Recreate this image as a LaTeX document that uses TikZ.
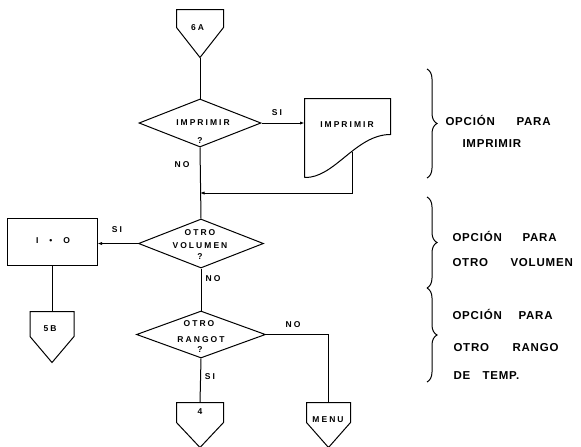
\documentclass[tikz,border=0pt]{standalone}
\usepackage{fontspec}
\setmainfont{Liberation Sans}
\newfontfamily\sidefont{Liberation Sans}[LetterSpace=7]
\newfontfamily\shapefont{Liberation Sans}[LetterSpace=24]
\usetikzlibrary{shapes.geometric,arrows.meta,decorations.pathreplacing}

\begin{document}
\begin{tikzpicture}[x=1pt,y=-1pt,line width=1pt,
  decision/.style={diamond, draw, inner sep=0pt},
  offpage/.style={rectangle, inner sep=0pt, minimum width=46pt},
  procbox/.style={rectangle, draw, inner sep=0pt, minimum width=90pt, minimum height=47pt},
  doctext/.style={inner sep=0pt, font=\shapefont\bfseries\fontsize{8.5}{9}\selectfont},
  shapetext/.style={inner sep=0pt, anchor=base, font=\shapefont\bfseries\fontsize{8.5}{9}\selectfont},
  flowlabel/.style={inner sep=0pt, font=\shapefont\bfseries\fontsize{8.5}{9}\selectfont},
  sidetext/.style={inner sep=0pt, anchor=base west, font=\sidefont\bfseries\fontsize{11.5}{13}\selectfont},
  arr/.style={-{Latex[length=4.5pt,width=3.2pt]}},
  sidebrace/.style={decorate, decoration={brace, amplitude=10pt}}]

\useasboundingbox (0,0) rectangle (581,447);

% decisions
\node[decision, minimum width=122pt, minimum height=48pt] (d1) at (200,123) {};
\node[decision, minimum width=125pt, minimum height=49pt] (d2) at (201,243.5) {};
\node[decision, minimum width=129pt, minimum height=47pt] (d3) at (201,334.5) {};

\node[shapetext] (d1a) at (203,125) {IMPRIMIR};
\node[shapetext] (d1b) at (200,143) {?};
\node[shapetext] (d2a) at (200,235) {OTRO};
\node[shapetext] (d2b) at (200,248) {VOLUMEN};
\node[shapetext] (d2c) at (200,259) {?};
\node[shapetext] (d3a) at (199,326) {OTRO};
\node[shapetext] (d3b) at (201,342) {RANGOT};
\node[shapetext] (d3c) at (200,352) {?};

% off-page connectors (outline drawn below)
\node[offpage, minimum height=47pt] (c6a) at (200,33.5) {};
\node[offpage, minimum width=43pt, minimum height=50pt] (c5b) at (52,337) {};
\node[offpage, minimum height=44pt] (c4) at (200,425) {};
\node[offpage, minimum width=43pt, minimum height=44pt] (cmenu) at (328.5,425) {};
\foreach \n/\s in {c6a/18pt, c5b/25pt, c4/20pt, cmenu/20pt}
  \draw (\n.north west) -- (\n.north east) -- ([yshift=-\s]\n.north east)
        -- (\n.south) -- ([yshift=-\s]\n.north west) -- cycle;

\node[doctext] (c6at) at (197.5,28) {6A};
\node[doctext] (c5bt) at (50,329) {5B};
\node[doctext] (c4t) at (200,412) {4};
\node[doctext] (cmenut) at (328,420) {MENU};

% print document
\node[inner sep=0pt, minimum width=85pt, minimum height=78pt] (ndoc) at (347.5,138) {};
\draw (ndoc.south west) -- (ndoc.north west) -- (ndoc.north east)
      -- ([yshift=-36pt]ndoc.north east)
      .. controls ([xshift=-35pt,yshift=-36pt]ndoc.north east)
      and ([xshift=30pt,yshift=-1pt]ndoc.south west) .. (ndoc.south west);
\node[doctext] (ndoct) at (347,125) {IMPRIMIR};
\coordinate (docout) at (352,152);
\coordinate (junc) at (200,193);

% counter reset box
\node[procbox] (reset) at (52,241.5) {};
\node[doctext] (resett) at (53,241) {I\hspace{11pt}\textbullet\hspace{11pt}O};

% flow
\draw (c6a.south) -- (d1.north);
\draw[arr] (d1.east) -- (d1.east -| ndoc.west);
\draw (d1.south) -- (d2.north);
\draw[arr] (docout) |- (junc);
\draw[arr] (d2.west) -- (d2.west -| reset.east);
\draw (reset.south) -- (c5b.north);
\draw (d2.south) -- (d3.north);
\draw (d3.south) -- (c4.north);
\draw (d3.east) -| (cmenu.north);

% branch labels
\node[flowlabel] (l1) at (277,113) {SI};
\node[flowlabel] (l2) at (182,165) {NO};
\node[flowlabel] (l3) at (117,230) {SI};
\node[flowlabel] (l4) at (213,279) {NO};
\node[flowlabel] (l5) at (293,325) {NO};
\node[flowlabel] (l6) at (210,377) {SI};

% side notes
\draw[sidebrace] (427,69) -- (427,178);
\draw[sidebrace] (427,197) -- (427,288);
\draw[sidebrace] (427,288) -- (427,382);

\node[sidetext] (s1a) at (445,125) {OPCIÓN};
\node[sidetext] (s1b) at (516,125) {PARA};
\node[sidetext] (s1c) at (462,147) {IMPRIMIR};

\node[sidetext] (s2a) at (452,241) {OPCIÓN};
\node[sidetext] (s2b) at (522,241) {PARA};
\node[sidetext] (s2c) at (452,266) {OTRO};
\node[sidetext] (s2d) at (510,266) {VOLUMEN};

\node[sidetext] (s3a) at (452,319) {OPCIÓN};
\node[sidetext] (s3b) at (518,319) {PARA};
\node[sidetext] (s3c) at (453,351) {OTRO};
\node[sidetext] (s3d) at (512,351) {RANGO};
\node[sidetext] (s3e) at (453,379) {DE};
\node[sidetext] (s3f) at (482,379) {TEMP.};

\end{tikzpicture}
\end{document}
